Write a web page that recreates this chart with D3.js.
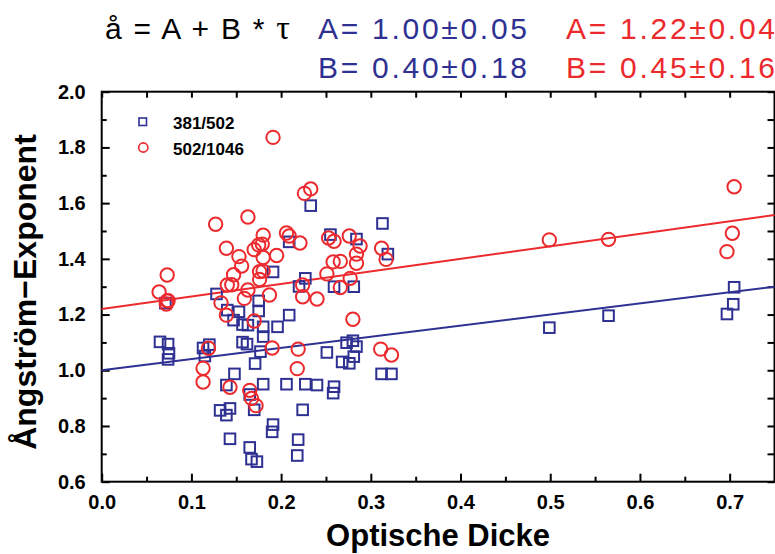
<!DOCTYPE html>
<html>
<head>
<meta charset="utf-8">
<script src="https://cdn.jsdelivr.net/npm/d3@7"></script>
<style>
  body { margin: 0; background: #fff; }
  svg { display: block; font-family: "Liberation Sans", Arial, sans-serif; }
  .axis path { display: none; }
  .axis line { stroke: #000; stroke-width: 2; }
</style>
</head>
<body>
<div id="chart"></div>
<script>
// 381/502 (blue squares): optical depth and angstrom exponent
var blueTau = [0.065, 0.074, 0.075, 0.074, 0.071, 0.113, 0.120, 0.115, 0.128, 0.132,
    0.139, 0.143, 0.139, 0.148, 0.143, 0.140, 0.147, 0.153, 0.157, 0.163,
    0.157, 0.162, 0.165, 0.170, 0.165, 0.167, 0.173, 0.171, 0.177, 0.175,
    0.175, 0.180, 0.180, 0.180, 0.191, 0.190, 0.191, 0.196, 0.206, 0.209,
    0.209, 0.220, 0.227, 0.227, 0.224, 0.219, 0.218, 0.233, 0.240, 0.255,
    0.259, 0.251, 0.259, 0.258, 0.268, 0.276, 0.273, 0.280, 0.284, 0.281,
    0.281, 0.284, 0.313, 0.319, 0.312, 0.323, 0.499, 0.565, 0.705, 0.704, 0.697];
var blueAng = [1.102, 1.094, 1.061, 1.039, 1.241, 1.080, 1.092, 1.051, 1.274, 0.856,
    0.839, 0.863, 0.947, 0.987, 0.754, 1.216, 1.180, 1.210, 1.164, 1.162,
    1.101, 1.094, 0.913, 0.858, 0.723, 0.681, 0.672, 1.024, 1.067, 1.249,
    1.213, 1.156, 1.121, 0.950, 0.805, 0.779, 1.353, 1.156, 0.950, 1.198,
    1.461, 1.301, 1.330, 0.950, 0.858, 0.751, 0.694, 1.591, 0.947, 1.487,
    1.300, 1.064, 0.941, 0.918, 1.030, 1.025, 1.099, 1.106, 1.085, 1.049,
    1.300, 1.471, 1.527, 1.417, 0.987, 0.987, 1.153, 1.196, 1.298, 1.237, 1.202];

// 502/1046 (red circles)
var redTau = [0.064, 0.073, 0.073, 0.074, 0.072, 0.113, 0.113, 0.119, 0.127, 0.133,
    0.139, 0.139, 0.140, 0.145, 0.147, 0.143, 0.153, 0.156, 0.159, 0.163,
    0.163, 0.165, 0.167, 0.172, 0.170, 0.170, 0.175, 0.179, 0.180, 0.180,
    0.176, 0.180, 0.176, 0.187, 0.190, 0.191, 0.195, 0.206, 0.209, 0.221,
    0.226, 0.233, 0.224, 0.224, 0.219, 0.218, 0.240, 0.251, 0.253, 0.259,
    0.258, 0.266, 0.266, 0.276, 0.288, 0.284, 0.284, 0.277, 0.280, 0.312,
    0.317, 0.311, 0.323, 0.499, 0.565, 0.705, 0.703, 0.697];
var redAng = [1.281, 1.342, 1.249, 1.250, 1.238, 1.007, 0.958, 1.079, 1.524, 1.242,
    1.438, 1.198, 1.306, 1.307, 1.343, 0.939, 1.408, 1.374, 1.258, 1.288,
    1.550, 0.928, 0.899, 0.873, 1.177, 1.433, 1.450, 1.453, 1.485, 1.405,
    1.354, 1.356, 1.326, 1.270, 1.080, 1.836, 1.412, 1.493, 1.482, 1.457,
    1.635, 1.651, 1.306, 1.264, 1.076, 1.006, 1.256, 1.346, 1.475, 1.463,
    1.389, 1.391, 1.297, 1.482, 1.446, 1.417, 1.384, 1.330, 1.183, 1.438,
    1.398, 1.076, 1.055, 1.468, 1.470, 1.659, 1.492, 1.426];

// linear fits  å = A + B * τ  (value, error)
var fitBlueA = [1.00, 0.05], fitBlueB = [0.40, 0.18];
var fitRedA = [1.22, 0.04], fitRedB = [0.45, 0.16];

var seriesNames = ['381/502', '502/1046'];
var xTicks = [0.0, 0.1, 0.2, 0.3, 0.4, 0.5, 0.6, 0.7];
var yTicks = [0.6, 0.8, 1.0, 1.2, 1.4, 1.6, 1.8, 2.0];

var blue = '#2e3192';
var red = '#ec2a2e';

var width = 775;
var height = 554;
var pLeft = 101.7, pRight = 774.5, pTop = 91.7, pBottom = 481.7;

var xScale = d3.scaleLinear().domain([0, 0.75]).range([pLeft, pRight]);
var yScale = d3.scaleLinear().domain([0.6, 2.0]).range([pBottom, pTop]);

var svg = d3.select('#chart')
    .append('svg')
    .attr('width', width)
    .attr('height', height);

var fmt = d3.format('.1f');
var xMinor = [0.05, 0.15, 0.25, 0.35, 0.45, 0.55, 0.65];
var yMinor = [0.7, 0.9, 1.1, 1.3, 1.5, 1.7, 1.9];

var styleLabels = function (g) {
    g.selectAll('text')
        .style('font-size', '20px')
        .style('font-weight', 'bold')
        .attr('fill', '#000');
};

// bottom axis
svg.append('g').attr('class', 'axis')
    .attr('transform', 'translate(0,' + pBottom + ')')
    .call(d3.axisBottom(xScale).tickValues(xTicks).tickSize(-8).tickPadding(13).tickFormat(fmt))
    .call(styleLabels);
svg.append('g').attr('class', 'axis')
    .attr('transform', 'translate(0,' + pBottom + ')')
    .call(d3.axisBottom(xScale).tickValues(xMinor).tickSize(-5).tickFormat(''));
// top axis
svg.append('g').attr('class', 'axis')
    .attr('transform', 'translate(0,' + pTop + ')')
    .call(d3.axisTop(xScale).tickValues(xTicks.concat(xMinor)).tickSize(-6).tickFormat(''));
// left axis
svg.append('g').attr('class', 'axis')
    .attr('transform', 'translate(' + pLeft + ',0)')
    .call(d3.axisLeft(yScale).tickValues(yTicks).tickSize(-8).tickPadding(16).tickFormat(fmt))
    .call(styleLabels);
svg.append('g').attr('class', 'axis')
    .attr('transform', 'translate(' + pLeft + ',0)')
    .call(d3.axisLeft(yScale).tickValues(yMinor).tickSize(-5).tickFormat(''));
// right axis
svg.append('g').attr('class', 'axis')
    .attr('transform', 'translate(' + pRight + ',0)')
    .call(d3.axisRight(yScale).tickValues(yTicks.concat(yMinor)).tickSize(-7).tickFormat(''));

// frame
svg.append('rect')
    .attr('x', pLeft).attr('y', pTop)
    .attr('width', pRight - pLeft).attr('height', pBottom - pTop)
    .attr('fill', 'none').attr('stroke', '#000').attr('stroke-width', 2);

// fit lines
[[fitBlueA[0], fitBlueB[0], blue], [fitRedA[0], fitRedB[0], red]].forEach(function (f) {
    svg.append('line')
        .attr('x1', xScale(0)).attr('y1', yScale(f[0]))
        .attr('x2', xScale(0.75)).attr('y2', yScale(f[0] + f[1] * 0.75))
        .attr('stroke', f[2]).attr('stroke-width', 2);
});

var plot = svg.append('g');

plot.selectAll('rect.pt')
    .data(d3.zip(blueTau, blueAng))
    .enter()
    .append('rect')
    .attr('class', 'pt')
    .attr('x', function (d) { return xScale(d[0]) - 5.3; })
    .attr('y', function (d) { return yScale(d[1]) - 5.3; })
    .attr('width', 10.6).attr('height', 10.6)
    .attr('fill', 'none').attr('stroke', blue).attr('stroke-width', 2);

plot.selectAll('circle.pt')
    .data(d3.zip(redTau, redAng))
    .enter()
    .append('circle')
    .attr('class', 'pt')
    .attr('cx', function (d) { return xScale(d[0]); })
    .attr('cy', function (d) { return yScale(d[1]); })
    .attr('r', 6.7)
    .attr('fill', 'none').attr('stroke', red).attr('stroke-width', 2);

// legend
svg.append('rect').attr('x', 139).attr('y', 118).attr('width', 7.5).attr('height', 7.5)
    .attr('fill', 'none').attr('stroke', blue).attr('stroke-width', 1.6);
svg.append('circle').attr('cx', 143.3).attr('cy', 147.5).attr('r', 4.6)
    .attr('fill', 'none').attr('stroke', red).attr('stroke-width', 1.6);
svg.append('text').attr('x', 173).attr('y', 128.5).text(seriesNames[0])
    .style('font-weight', 'bold').style('font-size', '17px');
svg.append('text').attr('x', 173).attr('y', 154.5).text(seriesNames[1])
    .style('font-weight', 'bold').style('font-size', '17px');

// axis titles
svg.append('text')
    .attr('x', (pLeft + pRight) / 2).attr('y', 546)
    .style('text-anchor', 'middle').style('font-weight', 'bold').style('font-size', '31px')
    .text('Optische Dicke');

svg.append('text')
    .attr('transform', 'rotate(-90)')
    .attr('x', -292).attr('y', 36)
    .style('text-anchor', 'middle').style('font-weight', 'bold').style('font-size', '32px')
    .text('Ångström−Exponent');

// header with fit results
var head = svg.append('g').style('font-size', '30px');
var formula = head.append('text').attr('x', 105).attr('y', 39).attr('fill', '#000')
    .attr('textLength', 185).attr('lengthAdjust', 'spacing');
formula.append('tspan').text('å =  A + B * ');
formula.append('tspan').style('font-family', '"Liberation Serif", serif').style('font-size', '34px').text('τ');

var fitText = function (label, p, x, y, color) {
    head.append('text').attr('x', x).attr('y', y).attr('fill', color)
        .attr('textLength', 209).attr('lengthAdjust', 'spacing')
        .text(label + '=  ' + p[0].toFixed(2) + '±' + p[1].toFixed(2));
};
fitText('A', fitBlueA, 318, 39, blue);
fitText('B', fitBlueB, 318, 78, blue);
fitText('A', fitRedA, 566, 39, red);
fitText('B', fitRedB, 566, 78, red);
</script>
</body>
</html>
